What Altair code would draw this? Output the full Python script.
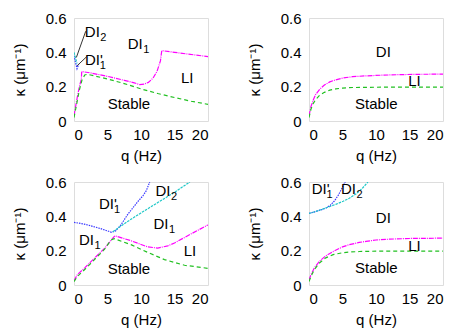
import altair as alt
import pandas as pd

FONT = "Liberation Sans"

# ---------------- curve data (q in Hz, kappa in 1/um) ----------------
# Panel A (top left)
A_mag_q = [0, 0.4, 0.8, 1.1, 1.15, 2.5, 5, 7.5, 9, 9.8, 10.5, 11.1, 11.8, 12.4, 12.9, 13.1, 15, 20]
A_mag_k = [0.03, 0.12, 0.2, 0.245, 0.288, 0.28, 0.26, 0.237, 0.222, 0.212, 0.215, 0.225, 0.25, 0.29, 0.35, 0.41, 0.40, 0.375]
A_grn_q = [0, 0.4, 0.8, 1.2, 1.6, 2, 5, 7.5, 10, 12.5, 15, 17.5, 20]
A_grn_k = [0.02, 0.1, 0.18, 0.24, 0.268, 0.272, 0.245, 0.218, 0.187, 0.16, 0.137, 0.115, 0.097]
A_blu_q = [0, 0.2, 0.45, 0.7]
A_blu_k = [0.38, 0.345, 0.305, 0.33]
A_cyn_q = [0, 0.2, 0.45]
A_cyn_k = [0.40, 0.37, 0.335]

# Panel B (top right)
B_mag_q = [0, 0.3, 0.6, 1, 1.6, 2.3, 3.1, 4, 5, 6.5, 8.5, 11, 13.5, 16, 20]
B_mag_k = [0.03, 0.085, 0.12, 0.155, 0.185, 0.21, 0.228, 0.24, 0.25, 0.258, 0.263, 0.267, 0.27, 0.272, 0.273]
B_grn_q = [0, 0.3, 0.6, 1, 1.6, 2.3, 3.1, 4, 5, 6.5, 8.5, 11, 15, 20]
B_grn_k = [0.02, 0.07, 0.1, 0.125, 0.15, 0.167, 0.18, 0.187, 0.192, 0.195, 0.196, 0.197, 0.197, 0.197]

# Panel C (bottom left)
C_blu_q = [0, 1.5, 2.5, 4, 5, 5.6, 6.2, 7, 8, 9, 9.5, 10.3, 10.8, 11.3]
C_blu_k = [0.365, 0.355, 0.345, 0.328, 0.315, 0.307, 0.315, 0.35, 0.41, 0.46, 0.485, 0.52, 0.55, 0.6]
C_cyn_q = [5.8, 8, 10, 12.5, 15, 17.3]
C_cyn_k = [0.31, 0.37, 0.42, 0.48, 0.54, 0.6]
C_mag_q = [0, 0.5, 1.6, 3.1, 4.6, 5.8, 6.1, 8.5, 11, 12.5, 14, 15, 17.5, 20]
C_mag_k = [0.025, 0.06, 0.1, 0.158, 0.215, 0.273, 0.287, 0.258, 0.222, 0.215, 0.228, 0.245, 0.298, 0.35]
C_grn_q = [0, 0.5, 1.6, 3.1, 4.6, 5.5, 6, 8.5, 11, 13.5, 16.5, 20]
C_grn_k = [0.02, 0.05, 0.09, 0.15, 0.21, 0.262, 0.27, 0.235, 0.19, 0.148, 0.115, 0.097]

# Panel D (bottom right)
D_blu_q = [0, 1, 2, 2.6, 3.2, 3.8, 4.4, 5.0, 5.4]
D_blu_k = [0.417, 0.428, 0.44, 0.45, 0.465, 0.49, 0.525, 0.57, 0.6]
D_cyn_q = [0, 1, 2.6, 4, 5.1, 6, 7.1, 8, 8.8]
D_cyn_k = [0.417, 0.428, 0.45, 0.47, 0.488, 0.505, 0.533, 0.565, 0.6]
D_mag_q = [0, 0.3, 0.8, 1.6, 2.5, 3.6, 5, 6, 7.5, 8.5, 10, 12, 15, 20]
D_mag_k = [0.03, 0.06, 0.1, 0.14, 0.17, 0.195, 0.222, 0.235, 0.248, 0.254, 0.262, 0.267, 0.271, 0.273]
D_grn_q = [0, 0.3, 0.8, 1.6, 2.5, 3.6, 5, 6, 7.5, 10, 15, 20]
D_grn_k = [0.02, 0.05, 0.09, 0.13, 0.158, 0.177, 0.188, 0.192, 0.195, 0.197, 0.197, 0.197]

CURVES = {
    "A": {"mag": (A_mag_q, A_mag_k), "grn": (A_grn_q, A_grn_k),
          "blu": (A_blu_q, A_blu_k), "cyn": (A_cyn_q, A_cyn_k)},
    "B": {"mag": (B_mag_q, B_mag_k), "grn": (B_grn_q, B_grn_k)},
    "C": {"mag": (C_mag_q, C_mag_k), "grn": (C_grn_q, C_grn_k),
          "blu": (C_blu_q, C_blu_k), "cyn": (C_cyn_q, C_cyn_k)},
    "D": {"mag": (D_mag_q, D_mag_k), "grn": (D_grn_q, D_grn_k),
          "blu": (D_blu_q, D_blu_k), "cyn": (D_cyn_q, D_cyn_k)},
}

# ---------------- labels ----------------
# plain region labels: panel, text, q, kappa (centre)
plain_panel = ["A", "A", "B", "B", "B", "C", "C", "D", "D", "D"]
plain_text = ["LI", "Stable", "DI", "LI", "Stable", "LI", "Stable", "DI", "LI", "Stable"]
plain_q = [16.9, 8.2, 11.1, 15.75, 10.05, 17.3, 8.2, 11.1, 15.75, 10.05]
plain_k = [0.25, 0.099, 0.40, 0.233, 0.10, 0.196, 0.096, 0.392, 0.23, 0.10]

# subscripted labels: panel, main, subscript, q (right end of main text), kappa
sub_panel = ["A", "A", "A", "C", "C", "C", "C", "D", "D"]
sub_main = ["DI", "DI'", "DI", "DI'", "DI", "DI", "DI", "DI'", "DI"]
sub_sub = ["2", "1", "1", "1", "2", "1", "1", "1", "2"]
sub_q = [3.86, 4.3, 10.25, 6.4, 14.4, 14.1, 2.97, 3.07, 7.0]
sub_k = [0.517, 0.355, 0.448, 0.473, 0.548, 0.356, 0.262, 0.558, 0.558]

# pointer lines (panel A)
ptr_q = [1.75, 1.9]
ptr_k = [0.523, 0.375]
ptr_q2 = [0.35, 0.47]
ptr_k2 = [0.37, 0.322]

# ---------------- style ----------------
curve_names = ["mag", "grn", "blu", "cyn"]
curve_colors = ["#ff00ff", "#22c022", "#3a3aff", "#20c8c8"]
curve_dash = [[5, 1, 1, 1], [4, 3], [1.5, 1], [2.5, 1]]

rows = []
for p, cs in CURVES.items():
    for name, (qs, ks) in cs.items():
        for i, (q, k) in enumerate(zip(qs, ks)):
            rows.append({"panel": p, "curve": name, "q": q, "k": k, "i": i})
lines_df = pd.DataFrame(rows)

plain_df = pd.DataFrame({"panel": plain_panel, "text": plain_text, "q": plain_q, "k": plain_k})
sub_df = pd.DataFrame({"panel": sub_panel, "main": sub_main, "sub": sub_sub,
                       "q": sub_q, "k": sub_k,
                       "primed": [m.endswith("'") for m in sub_main]})
ptr_df = pd.DataFrame({"panel": ["A", "A"], "q": ptr_q, "k": ptr_k, "q2": ptr_q2, "k2": ptr_k2})

W, H = 134, 103
FS = 15

xs = alt.Scale(domain=[0, 20], nice=False, zero=False)
ys = alt.Scale(domain=[0, 0.6], nice=False, zero=False)
xaxis = alt.Axis(title="q (Hz)", values=[0, 5, 10, 15, 20], grid=False, ticks=False,
                 domain=False, labelPadding=6, titlePadding=6, labelFont=FONT,
                 titleFont=FONT, labelFontSize=FS, titleFontSize=FS,
                 titleFontWeight="normal", labelColor="black", titleColor="black")
yaxis = alt.Axis(title="κ (μm⁻¹)", values=[0, 0.2, 0.4, 0.6], grid=False, ticks=False,
                 domain=False, labelPadding=8, titlePadding=18, labelFont=FONT,
                 titleFont=FONT, labelFontSize=FS, titleFontSize=FS,
                 titleFontWeight="normal", labelColor="black", titleColor="black",
                 labelExpr="datum.value == 0 ? '0' : format(datum.value, '.1f')")


def panel(pid):
    X = alt.X("q:Q", scale=xs, axis=xaxis)
    Y = alt.Y("k:Q", scale=ys, axis=yaxis)
    lines = alt.Chart(lines_df).transform_filter(alt.datum.panel == pid).mark_line(
        strokeWidth=1.2, clip=True
    ).encode(
        x=X, y=Y,
        color=alt.Color("curve:N", scale=alt.Scale(domain=curve_names, range=curve_colors), legend=None),
        strokeDash=alt.StrokeDash("curve:N", scale=alt.Scale(domain=curve_names, range=curve_dash), legend=None),
        detail="curve:N",
        order="i:Q",
    )
    layers = [lines]
    plain = alt.Chart(plain_df).transform_filter(alt.datum.panel == pid).mark_text(
        font=FONT, fontSize=FS, align="center", baseline="middle", color="black"
    ).encode(x=X, y=Y, text="text:N")
    layers.append(plain)
    sd = sub_df[sub_df.panel == pid]
    if len(sd):
        main = alt.Chart(sub_df).transform_filter(alt.datum.panel == pid).mark_text(
            font=FONT, fontSize=FS, align="right", baseline="middle", color="black"
        ).encode(x=X, y=Y, text="main:N")
        sub_n = alt.Chart(sub_df).transform_filter(
            (alt.datum.panel == pid) & (alt.datum.primed == False)
        ).mark_text(font=FONT, fontSize=11, align="left", baseline="middle", dy=6, dx=0.5,
                    color="black").encode(x=X, y=Y, text="sub:N")
        sub_p = alt.Chart(sub_df).transform_filter(
            (alt.datum.panel == pid) & (alt.datum.primed == True)
        ).mark_text(font=FONT, fontSize=11, align="left", baseline="middle", dy=6, dx=-3,
                    color="black").encode(x=X, y=Y, text="sub:N")
        layers += [main, sub_n, sub_p]
    pd_ = ptr_df[ptr_df.panel == pid]
    if len(pd_):
        ptr = alt.Chart(ptr_df).transform_filter(alt.datum.panel == pid).mark_rule(
            color="black", strokeWidth=0.8
        ).encode(x=X, y=Y, x2="q2:Q", y2="k2:Q")
        layers.append(ptr)
    return alt.layer(*layers).properties(width=W, height=H)


chart = alt.concat(
    panel("A"), panel("B"), panel("C"), panel("D"),
    columns=2, spacing={"row": 61, "column": 101}, bounds="flush"
).properties(
    padding={"left": 3, "top": 2, "right": 0, "bottom": 0}
).configure_view(stroke="#222222", strokeWidth=1).configure(background="white")

chart.save("out.html", embed_options={"renderer": "svg", "actions": False})
